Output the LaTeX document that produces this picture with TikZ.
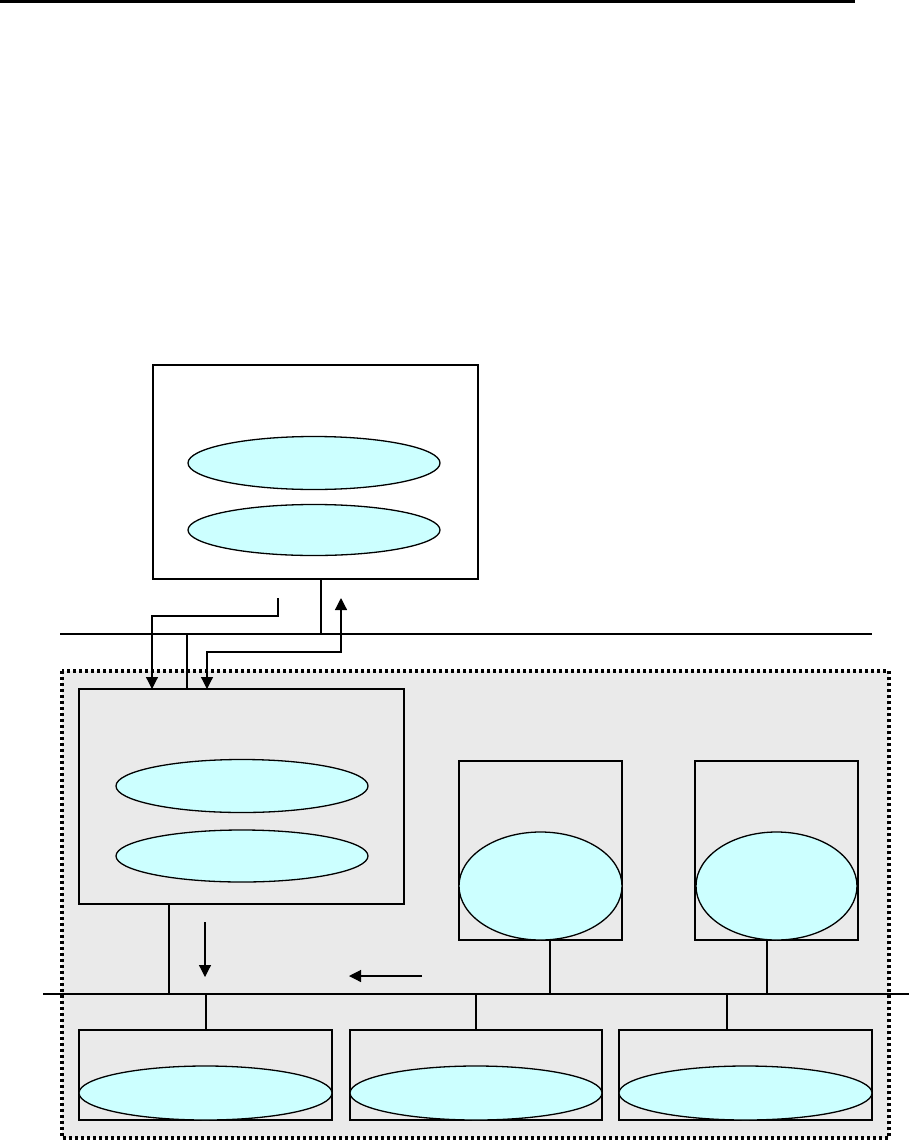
\documentclass[tikz,border=0pt]{standalone}
\usetikzlibrary{shapes.geometric,arrows.meta}
\definecolor{cyanfill}{HTML}{CCFFFF}
\definecolor{zonegray}{HTML}{EAEAEA}
\begin{document}
\begin{tikzpicture}[x=1pt,y=-1pt,
  box/.style={draw,line width=1.1pt,inner sep=0pt,outer sep=0pt},
  oval/.style={ellipse,draw,fill=cyanfill,line width=1.3pt,inner sep=0pt,outer sep=0pt},
  conn/.style={line width=1.2pt},
  arr/.style={line width=1.2pt,-{Triangle[width=12pt,length=12pt]}},
  darr/.style={line width=1.2pt,{Triangle[width=12pt,length=12pt]}-{Triangle[width=12pt,length=12pt]}},
  zone/.style={fill=zonegray,draw,line width=3.2pt,dash pattern=on 3pt off 3pt}
]
\useasboundingbox (0,0) rectangle (909,1140);
% header rule
\coordinate (hl) at (0,1.5);
\coordinate (hr) at (855,1.5);
\draw[line width=3pt] (hl) -- (hr);

% dotted zone
\path[zone] (62,671) rectangle (889,1138);

% buses
\coordinate (busAL) at (60,634);
\coordinate (busAR) at (872,634);
\draw[conn] (busAL) -- (busAR);
\coordinate (busBL) at (43,994);
\coordinate (busBR) at (909,994);
\draw[conn] (busBL) -- (busBR);

% top box
\node[box,minimum width=325pt,minimum height=214pt] (top) at (315.5,472) {};
\node[oval,minimum width=252pt,minimum height=53pt] (te1) at (314,463) {};
\node[oval,minimum width=252pt,minimum height=51pt] (te2) at (314,530) {};

% left box in zone
\node[box,minimum width=325pt,minimum height=215pt] (lb) at (241.5,796.5) {};
\node[oval,minimum width=252pt,minimum height=53pt] (le1) at (242,786) {};
\node[oval,minimum width=252pt,minimum height=52pt] (le2) at (242,856) {};

% right boxes
\node[box,minimum width=163pt,minimum height=179pt] (ra) at (540.5,850.5) {};
\node[oval,minimum width=163pt,minimum height=108pt] (rae) at (540.5,886) {};
\node[box,minimum width=163pt,minimum height=179pt] (rb) at (776.5,850.5) {};
\node[oval,minimum width=161pt,minimum height=108pt] (rbe) at (776.5,886) {};

% bottom boxes
\node[box,minimum width=253pt,minimum height=90pt] (b1) at (205.5,1075) {};
\node[oval,minimum width=253pt,minimum height=54pt] (b1e) at (205.5,1093) {};
\node[box,minimum width=252pt,minimum height=90pt] (b2) at (476,1075) {};
\node[oval,minimum width=252pt,minimum height=54pt] (b2e) at (476,1093) {};
\node[box,minimum width=253pt,minimum height=90pt] (b3) at (745.5,1075) {};
\node[oval,minimum width=253pt,minimum height=54pt] (b3e) at (745.5,1093) {};

% top box to bus A
\coordinate (tA) at (321,634);
\draw[conn] (top.south -| tA) -- (tA);
% bus A to left box
\coordinate (lA) at (187,634);
\draw[conn] (lA) -- (lb.north -| lA);
% arrow path 1
\coordinate (p1s) at (278,598);
\coordinate (p1k) at (152,616);
\draw[arr] (p1s) |- (p1k) -- (lb.north -| p1k);
% arrow path 2 (both ends)
\coordinate (p2k) at (207,652);
\coordinate (p2e) at (341,598);
\draw[darr] (lb.north -| p2k) -- (p2k) -| (p2e);

% left box to bus B
\coordinate (lB) at (169,994);
\draw[conn] (lb.south -| lB) -- (lB);
% free arrows
\coordinate (fa1) at (205,922);
\coordinate (fa2) at (205,977);
\draw[arr] (fa1) -- (fa2);
\coordinate (fb1) at (422,976);
\coordinate (fb2) at (349,976);
\draw[arr] (fb1) -- (fb2);

% right boxes to bus B
\coordinate (raB) at (550,994);
\draw[conn] (ra.south -| raB) -- (raB);
\coordinate (rbB) at (767,994);
\draw[conn] (rb.south -| rbB) -- (rbB);

% bus B to bottom boxes
\coordinate (b1B) at (206,994);
\draw[conn] (b1B) -- (b1.north -| b1B);
\coordinate (b2B) at (476,994);
\draw[conn] (b2B) -- (b2.north -| b2B);
\coordinate (b3B) at (727,994);
\draw[conn] (b3B) -- (b3.north -| b3B);
\end{tikzpicture}
\end{document}
